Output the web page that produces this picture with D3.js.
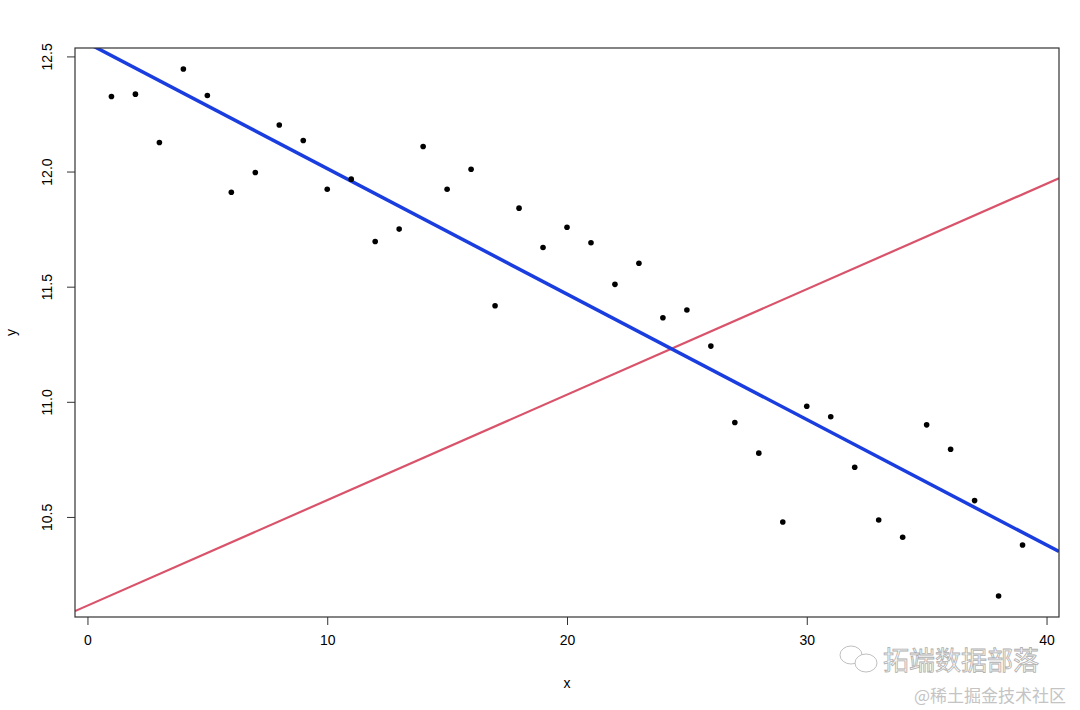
<!DOCTYPE html>
<html>
<head>
<meta charset="utf-8">
<script src="https://cdn.jsdelivr.net/npm/d3@7"></script>
<style>
  body { margin: 0; background: #fff; }
  text { font-family: "Liberation Sans", Arial, sans-serif; }
</style>
</head>
<body>
<div class="chart"></div>
<script>
// data
var xs = [1, 2, 3, 4, 5, 6, 7, 8, 9, 10, 11, 12, 13, 14, 15, 16, 17, 18, 19, 20,
          21, 22, 23, 24, 25, 26, 27, 28, 29, 30, 31, 32, 33, 34, 35, 36, 37, 38, 39];
var ys = [12.326, 12.336, 12.126, 12.445, 12.330, 11.910, 11.996, 12.202, 12.135, 11.923,
          11.967, 11.696, 11.750, 12.109, 11.923, 12.010, 11.417, 11.841, 11.670, 11.758,
          11.691, 11.510, 11.602, 11.365, 11.399, 11.242, 10.910, 10.777, 10.478, 10.981,
          10.935, 10.716, 10.487, 10.412, 10.900, 10.794, 10.571, 10.157, 10.378];
var blueLine = [12.558, -0.0545];   // intercept, slope
var redLine = [10.115, 0.0458];
var xTicks = [0, 10, 20, 30, 40];
var yTicks = [10.5, 11.0, 11.5, 12.0, 12.5];

var marg = { t: 48, r: 21, b: 93, l: 75 };
var wid = 1080 - marg.l - marg.r;
var hei = 710 - marg.t - marg.b;

var svg = d3.select(".chart")
    .append("svg")
    .attr("width", 1080)
    .attr("height", 710);

var g = svg.append("g")
    .attr("transform", "translate(" + marg.l + "," + marg.t + ")");

// R style 4% padding
function pad(ext) {
    var d = (ext[1] - ext[0]) * 0.04;
    return [ext[0] - d, ext[1] + d];
}

var xscale = d3.scaleLinear()
    .domain(pad(d3.extent(xs)))
    .range([0, wid]);

var yscale = d3.scaleLinear()
    .domain(pad(d3.extent(ys)))
    .range([hei, 0]);

var xAxis = d3.axisBottom(xscale)
    .tickValues(xTicks)
    .tickSize(8)
    .tickPadding(10)
    .tickFormat(d3.format("d"));

var yAxis = d3.axisLeft(yscale)
    .tickValues(yTicks)
    .tickSize(8)
    .tickFormat(d3.format(".1f"));

var gx = g.append("g")
    .attr("transform", "translate(0," + hei + ")")
    .call(xAxis);
gx.select(".domain").remove();
gx.selectAll("text").style("font-size", "14px").attr("fill", "#000");
gx.selectAll("line").attr("stroke", "#333");

var gy = g.append("g").call(yAxis);
gy.select(".domain").remove();
gy.selectAll("line").attr("stroke", "#333");
gy.selectAll("text")
    .style("font-size", "14px")
    .attr("fill", "#000")
    .attr("text-anchor", "middle")
    .attr("x", 0)
    .attr("dy", 0)
    .attr("transform", "translate(-28,0) rotate(-90)")
    .attr("y", 5);

g.append("defs").append("clipPath")
    .attr("id", "clip")
    .append("rect")
    .attr("width", wid)
    .attr("height", hei);

var plot = g.append("g").attr("clip-path", "url(#clip)");

var xd = xscale.domain();

plot.append("line")
    .attr("x1", xscale(xd[0]))
    .attr("y1", yscale(redLine[0] + redLine[1] * xd[0]))
    .attr("x2", xscale(xd[1]))
    .attr("y2", yscale(redLine[0] + redLine[1] * xd[1]))
    .attr("stroke", "#d9536b")
    .attr("stroke-width", 2.2);

plot.append("line")
    .attr("x1", xscale(xd[0]))
    .attr("y1", yscale(blueLine[0] + blueLine[1] * xd[0]))
    .attr("x2", xscale(xd[1]))
    .attr("y2", yscale(blueLine[0] + blueLine[1] * xd[1]))
    .attr("stroke", "#1a3de0")
    .attr("stroke-width", 3.5);

plot.selectAll("circle")
    .data(xs)
    .enter().append("circle")
    .attr("cx", function(d) { return xscale(d); })
    .attr("cy", function(d, i) { return yscale(ys[i]); })
    .attr("r", 2.8)
    .attr("fill", "#000");

g.append("rect")
    .attr("width", wid)
    .attr("height", hei)
    .attr("fill", "none")
    .attr("stroke", "#333")
    .attr("stroke-width", 1.2);

svg.append("text")
    .attr("x", marg.l + xscale(20))
    .attr("y", 688)
    .attr("text-anchor", "middle")
    .style("font-size", "14px")
    .text("x");

svg.append("text")
    .attr("transform", "translate(16," + (marg.t + hei / 2) + ") rotate(-90)")
    .attr("text-anchor", "middle")
    .style("font-size", "14px")
    .text("y");

// watermark
var wm = svg.append("g").attr("fill", "#fff").attr("stroke", "#b8b8b8").attr("stroke-width", 0.9);
wm.append("ellipse").attr("cx", 851).attr("cy", 655).attr("rx", 11).attr("ry", 9);
wm.append("ellipse").attr("cx", 866).attr("cy", 663).attr("rx", 11).attr("ry", 9);
svg.append("text")
    .attr("x", 883)
    .attr("y", 670)
    .style("font-family", "Noto Sans CJK SC")
    .style("font-size", "26px")
    .attr("fill", "#fafafa")
    .attr("stroke", "#b0b0b0")
    .attr("stroke-width", 0.8)
    .text("拓端数据部落");
svg.append("text")
    .attr("x", 914)
    .attr("y", 702)
    .style("font-family", "Noto Sans CJK SC")
    .style("font-size", "17px")
    .attr("fill", "#c4c4c4")
    .text("@稀土掘金技术社区");
</script>
</body>
</html>
